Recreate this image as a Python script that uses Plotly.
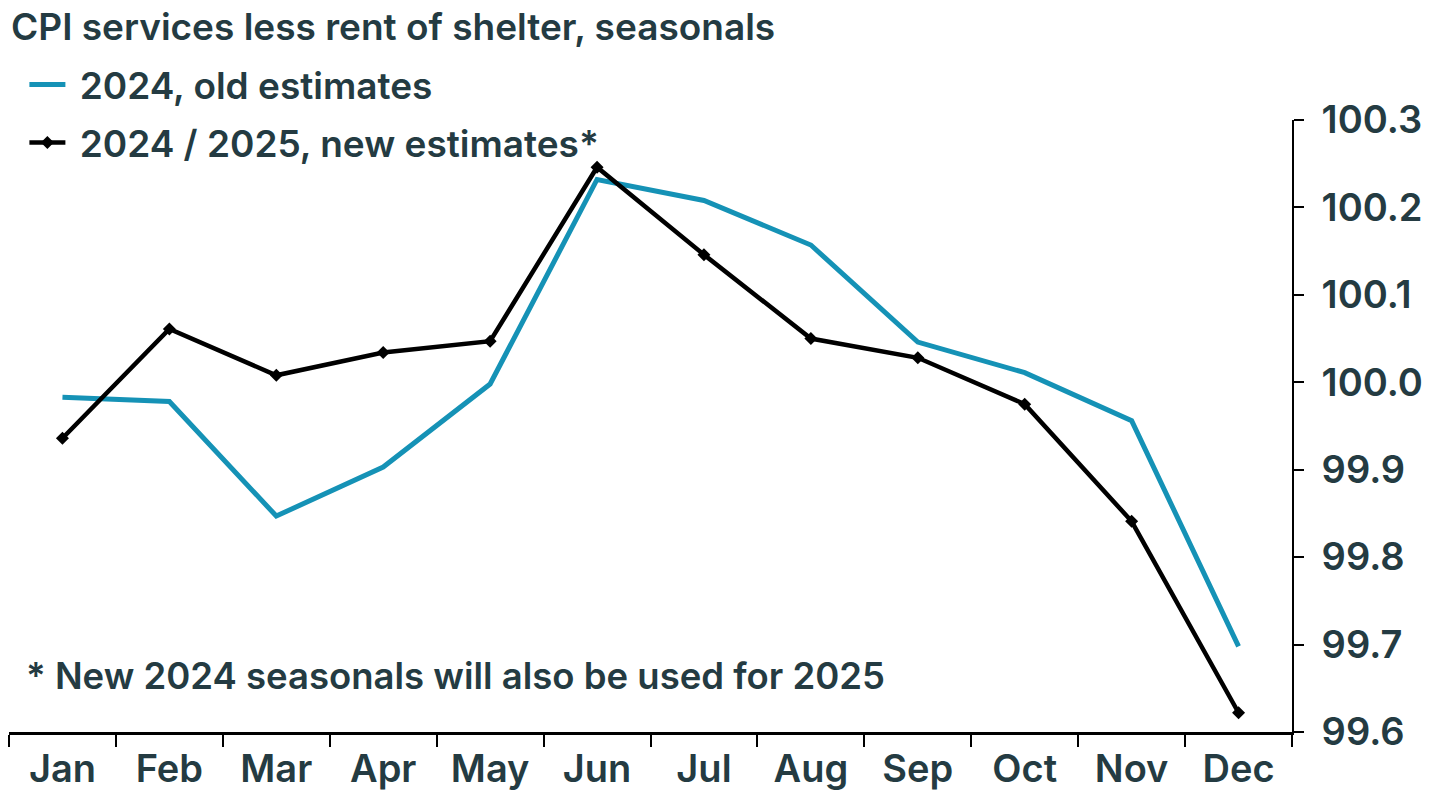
import plotly.graph_objects as go

months = ["Jan", "Feb", "Mar", "Apr", "May", "Jun", "Jul", "Aug", "Sep", "Oct", "Nov", "Dec"]
old_estimates = [99.983, 99.978, 99.847, 99.903, 99.998, 100.232, 100.208, 100.157, 100.046, 100.011, 99.956, 99.698]
new_estimates = [99.936, 100.061, 100.008, 100.034, 100.047, 100.246, 100.146, 100.050, 100.028, 99.975, 99.841, 99.622]
y_ticks = [99.6, 99.7, 99.8, 99.9, 100.0, 100.1, 100.2, 100.3]

TEXT = "#243b42"
BLUE = "#1592b6"
FONT = "Inter"
W = 600
NB = "\u00a0"

fig = go.Figure()
fig.add_trace(go.Scatter(
    x=months, y=old_estimates, mode="lines", name=NB + "2024, old estimates",
    line=dict(color=BLUE, width=5), legendgroup="a", cliponaxis=False,
))
fig.add_trace(go.Scatter(
    x=months, y=new_estimates, mode="lines+markers", name=NB + "2024 / 2025, new estimates*",
    line=dict(color="#000000", width=4.5), marker=dict(symbol="diamond", size=10, color="#000000"),
    legendgroup="b", cliponaxis=False,
))

fig.update_layout(
    width=1440, height=794,
    margin=dict(l=9, r=148, t=120, b=62),
    paper_bgcolor="white", plot_bgcolor="white",
    font=dict(family=FONT, color=TEXT, size=34, weight=W),
    showlegend=True,
    legend=dict(x=0.012, y=1.108, xanchor="left", yanchor="top", bgcolor="rgba(0,0,0,0)",
                font=dict(size=37, color=TEXT, family=FONT, weight=W), traceorder="grouped",
                tracegroupgap=7, itemwidth=36),
    xaxis=dict(type="category", range=[-0.5, 11.5], automargin=False, showgrid=False, zeroline=False,
               showline=True, linecolor="#000000",
               linewidth=2.5, ticks="outside", ticklen=12, tickwidth=2, tickcolor="#000000",
               tickson="boundaries", tickfont=dict(size=38, color=TEXT, family=FONT, weight=W),
               ticklabelstandoff=2),
    yaxis=dict(side="right", range=[99.6, 100.3], automargin=False, tickvals=y_ticks,
               ticktext=[f"{v:.1f}" for v in y_ticks], showgrid=False, zeroline=False,
               showline=True, linecolor="#000000", linewidth=2, ticks="outside", ticklen=10,
               tickwidth=2, tickcolor="#000000", tickfont=dict(size=38, color=TEXT, family=FONT, weight=W),
               ticklabelstandoff=10),
    annotations=[
        dict(text="CPI services less rent of shelter, seasonals", xref="paper", yref="paper",
             x=0.0, y=1.152, xanchor="left", yanchor="middle", showarrow=False,
             font=dict(size=37, color=TEXT, family=FONT, weight=W)),
        dict(text="* New 2024 seasonals will also be used for 2025", xref="paper", yref="paper",
             x=0.012, y=0.0915, xanchor="left", yanchor="middle", showarrow=False,
             font=dict(size=36.5, color=TEXT, family=FONT, weight=W)),
    ],
)

fig.write_html("out.html")
